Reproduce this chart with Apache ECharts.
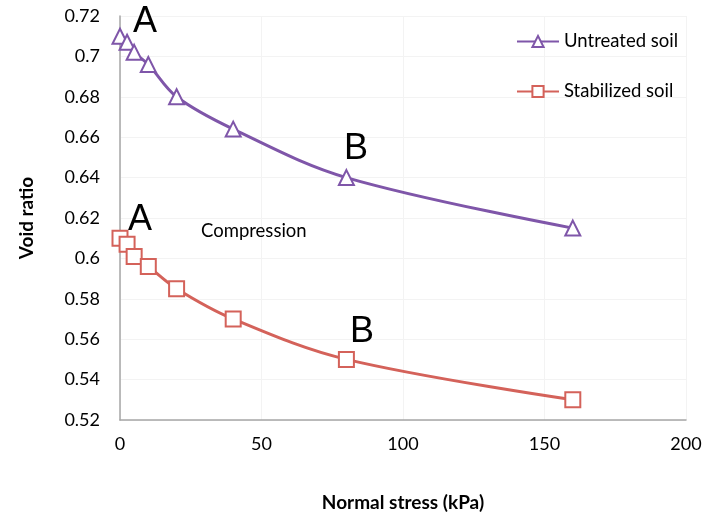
<!DOCTYPE html>
<html>
<head>
<meta charset="utf-8">
<script src="https://cdn.jsdelivr.net/npm/echarts@6/dist/echarts.min.js"></script>
<style>
  html, body { margin: 0; padding: 0; background: #fff; }
  #chart { width: 706px; height: 517px; }
</style>
</head>
<body>
<div id="chart"></div>
<script>
// normal stress (kPa)
const stress = [0, 2.5, 5, 10, 20, 40, 80, 160]
const untreated = [0.710, 0.707, 0.702, 0.696, 0.680, 0.664, 0.640, 0.615]
const stabilized = [0.610, 0.607, 0.601, 0.596, 0.585, 0.570, 0.550, 0.530]
const xTicks = [0, 50, 100, 150, 200]
const yTicks = [0.52, 0.54, 0.56, 0.58, 0.6, 0.62, 0.64, 0.66, 0.68, 0.7, 0.72]

const font = 'Lato, "Open Sans", sans-serif'
const arial = '"Liberation Sans", Arial, sans-serif'
const purple = '#7f56a9'
const red = '#d4625a'

function pairs(ys) {
  return stress.map(function(x, i) { return [x, ys[i]] })
}

const chart = echarts.init(document.getElementById('chart'))
const option = {
  backgroundColor: '#fff',
  animation: false,
  textStyle: { fontFamily: font },
  grid: { left: 120, right: 20, top: 16, bottom: 95 },
  legend: {
    orient: 'vertical',
    left: 511,
    top: 27,
    itemWidth: 42,
    itemHeight: 14,
    itemGap: 31,
    textStyle: { fontSize: 18.5, color: '#000', fontFamily: font },
    data: ['Untreated soil', 'Stabilized soil']
  },
  xAxis: {
    type: 'value',
    min: xTicks[0],
    max: xTicks[xTicks.length - 1],
    interval: 50,
    name: 'Normal stress (kPa)',
    nameLocation: 'middle',
    nameGap: 73,
    nameTextStyle: { fontSize: 19, fontWeight: 'bold', color: '#000' },
    axisLine: { lineStyle: { color: '#a6a6a6', width: 1.5 } },
    axisTick: { show: false },
    axisLabel: { fontSize: 18, color: '#000', margin: 15 },
    splitLine: { show: true, lineStyle: { color: '#f3f3f3' } }
  },
  yAxis: {
    type: 'value',
    min: yTicks[0],
    max: yTicks[yTicks.length - 1],
    interval: 0.02,
    name: 'Void ratio',
    nameLocation: 'middle',
    nameGap: 84,
    nameTextStyle: { fontSize: 19, fontWeight: 'bold', color: '#000' },
    axisLine: { show: true, lineStyle: { color: '#a6a6a6', width: 1.5 } },
    axisTick: { show: false },
    axisLabel: { fontSize: 18, color: '#000', margin: 20 },
    splitLine: { show: true, lineStyle: { color: '#f3f3f3' } }
  },
  series: [
    {
      name: 'Untreated soil',
      type: 'line',
      data: pairs(untreated),
      smooth: 0.35,
      symbol: 'emptyTriangle',
      symbolSize: 15,
      lineStyle: { color: purple, width: 3 },
      itemStyle: { color: purple, borderWidth: 1.5 }
    },
    {
      name: 'Stabilized soil',
      type: 'line',
      data: pairs(stabilized),
      smooth: 0.35,
      symbol: 'emptyRect',
      symbolSize: 15,
      lineStyle: { color: red, width: 3 },
      itemStyle: { color: red, borderWidth: 1.5 }
    }
  ],
  graphic: [
    { type: 'text', z: 100, left: 133, top: 4, style: { text: 'A', fontSize: 36, fontFamily: arial, fill: '#000' } },
    { type: 'text', z: 100, left: 344, top: 131, style: { text: 'B', fontSize: 36, fontFamily: arial, fill: '#000' } },
    { type: 'text', z: 100, left: 128, top: 202, style: { text: 'A', fontSize: 36, fontFamily: arial, fill: '#000' } },
    { type: 'text', z: 100, left: 350, top: 314, style: { text: 'B', fontSize: 36, fontFamily: arial, fill: '#000' } },
    { type: 'text', z: 100, left: 201, top: 222, style: { text: 'Compression', fontSize: 18.5, fontFamily: font, fill: '#000' } }
  ]
}
chart.setOption(option)
</script>
</body>
</html>
